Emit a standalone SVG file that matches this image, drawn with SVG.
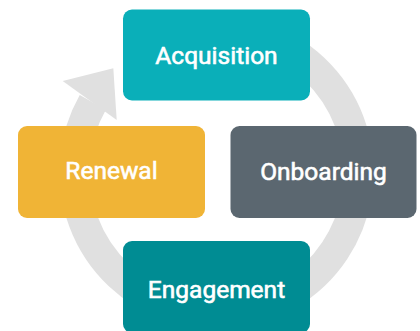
<svg xmlns="http://www.w3.org/2000/svg" width="420" height="331" viewBox="0 0 420 331">
  <style>
    .ring { fill: none; stroke: #e0e0e0; stroke-width: 30; }
    .head { fill: #e0e0e0; }
    .label { font-family: Roboto, "Liberation Sans", sans-serif; font-weight: 400; font-size: 24.5px; fill: #ffffff; stroke: #ffffff; stroke-width: 0.6px; text-anchor: middle; }
  </style>
  <rect width="420" height="331" fill="#ffffff"/>
  <g id="connectors">
    <!-- cycle ring, centre (216.5,172), r=142, ending in the arrowhead at upper left -->
    <path class="ring" d="M216.5 30 A142 142 0 1 1 92.8 102.3"/>
    <polygon class="head" points="62.7,81 113.3,68.3 116.7,120"/>
  </g>
  <g id="acquisition">
    <rect x="123" y="9.5" width="187" height="91" rx="9" fill="#0aafb9"/>
    <text class="label" x="216.5" y="64.3">Acquisition</text>
  </g>
  <g id="renewal">
    <rect x="18" y="126" width="187" height="92" rx="9" fill="#f0b436"/>
    <text class="label" x="111.5" y="179.3">Renewal</text>
  </g>
  <g id="onboarding">
    <rect x="230.5" y="126" width="186" height="92" rx="9" fill="#5b6770"/>
    <text class="label" x="323.5" y="179.5">Onboarding</text>
  </g>
  <g id="engagement">
    <rect x="123" y="241" width="187" height="92" rx="9" fill="#008c93"/>
    <text class="label" x="216.5" y="298.3">Engagement</text>
  </g>
</svg>
